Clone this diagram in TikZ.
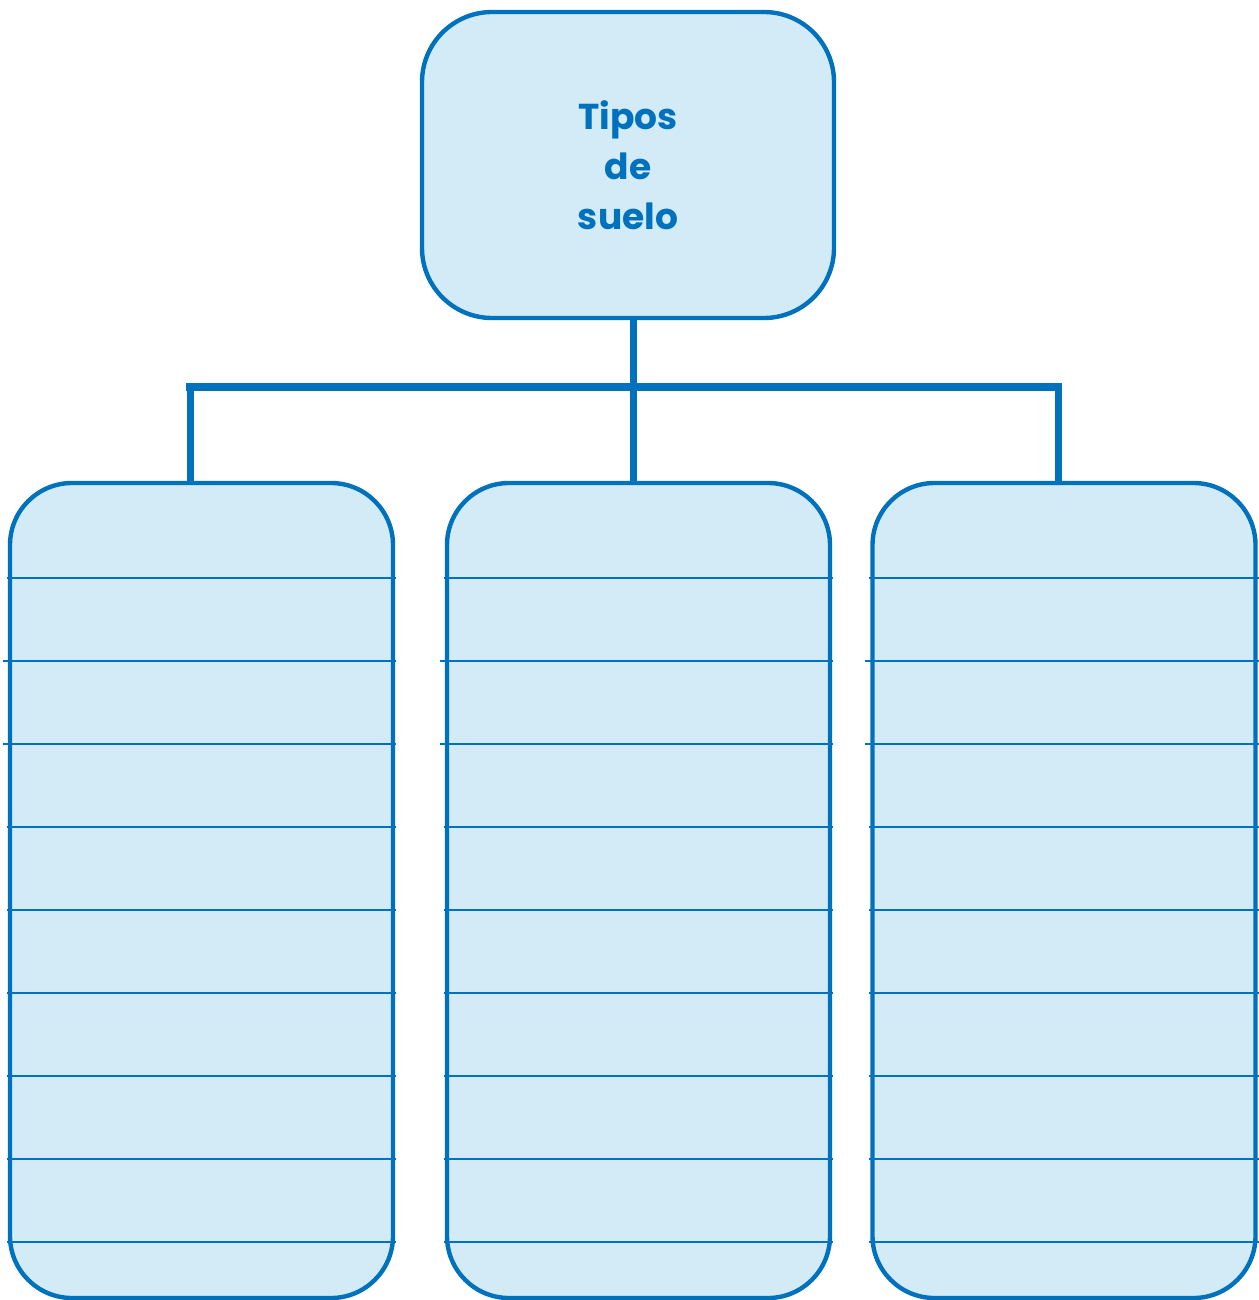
\documentclass[tikz,border=0pt]{standalone}
\usepackage{fontspec}
\setmainfont{Poppins}
\definecolor{stroke}{HTML}{0071BC}
\definecolor{fillc}{HTML}{D3EAF7}
\begin{document}
\begin{tikzpicture}[x=1pt,y=-1pt,
  box/.style={draw=stroke,fill=fillc,line width=4.4pt,rounded corners=62pt,inner sep=0pt},
  rule/.style={draw=stroke,line width=2.6pt},
  conn/.style={draw=stroke,line width=8pt}]
\useasboundingbox (0,0) rectangle (1258,1300);
% top box
\node[box,minimum width=412pt,minimum height=306pt,rounded corners=70pt,
  text=stroke,font=\fontsize{36}{50}\selectfont\bfseries,align=center] (top) at (628,165) {Tipos\\de\\suelo};
% bottom boxes
\foreach \n/\cx in {b1/201.5,b2/638.5,b3/1064}{
  \node[box,minimum width=383pt,minimum height=815pt] (\n) at (\cx,890.5) {};
  \foreach \yy in {578,827,910,993,1076,1159,1242}{
    \draw[rule] ([xshift=-1pt]\n.west |- 0,\yy) -- ([xshift=1pt]\n.east |- 0,\yy);
  }
  \foreach \yy in {661,744}{
    \draw[rule] ([xshift=-5pt]\n.west |- 0,\yy) -- ([xshift=1pt]\n.east |- 0,\yy);
  }
}
% connectors
\coordinate (jc) at (633,387);
\coordinate (jl) at (190,387);
\coordinate (jr) at (1058,387);
\draw[conn,line width=7pt] (top.south -| jc) -- (jc |- b2.north);
\draw[conn] ([xshift=-4pt]jl) -- ([xshift=4pt]jr);
\draw[conn,line width=7pt] (jl) -- (jl |- b1.north);
\draw[conn,line width=7pt] (jr) -- (jr |- b3.north);
\end{tikzpicture}
\end{document}
